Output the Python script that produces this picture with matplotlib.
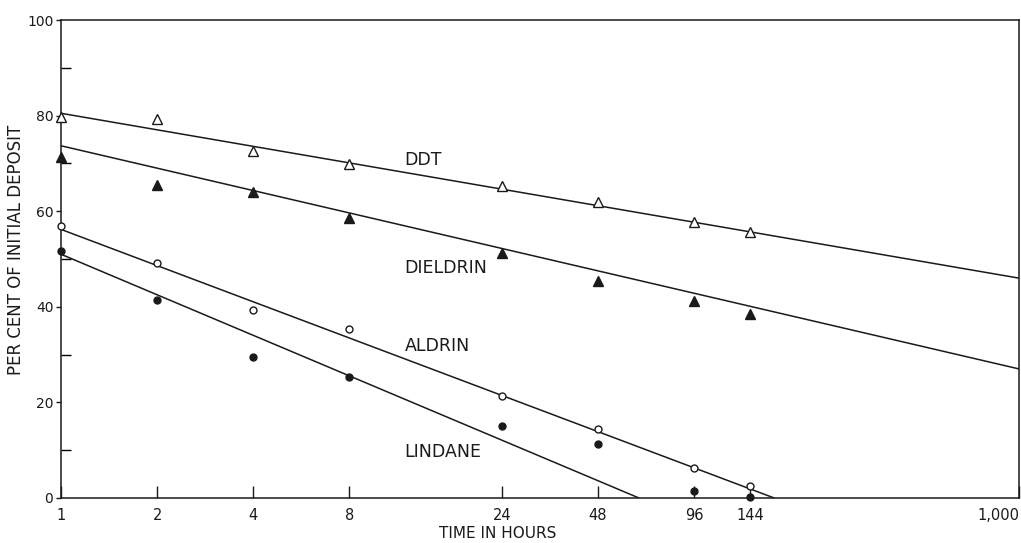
import matplotlib.pyplot as plt
import matplotlib.ticker as mticker

# Sampling times (hours)
hours = [1, 2, 4, 8, 24, 48, 96, 144]

# Per cent of initial deposit
ddt = [79.8, 79.2, 72.7, 69.8, 65.2, 61.9, 57.8, 55.7]
dieldrin = [71.3, 65.5, 64.0, 58.5, 51.2, 45.4, 41.2, 38.5]
aldrin = [57.0, 49.2, 39.3, 35.4, 21.3, 14.5, 6.2, 2.6]
lindane = [51.6, 41.4, 29.5, 25.3, 15.1, 11.3, 1.5, 0.2]

# Fitted straight lines (end points)
ddt_fit_x, ddt_fit_y = [1, 1000], [80.5, 46.0]
dieldrin_fit_x, dieldrin_fit_y = [1, 1000], [73.7, 27.0]
aldrin_fit_x, aldrin_fit_y = [1, 171], [56.2, 0]
lindane_fit_x, lindane_fit_y = [1, 64.5], [51.0, 0]

tick_hours = [1, 2, 4, 8, 24, 48, 96, 144, 1000]
tick_labels = ["1", "2", "4", "8", "24", "48", "96", "144", "1,000"]

ink = "#1a1a1a"

fig = plt.figure(figsize=(10.21, 5.43), dpi=100)
ax = fig.add_axes([0.0597, 0.083, 0.9383, 0.88])

# lines
for fx, fy in [(ddt_fit_x, ddt_fit_y), (dieldrin_fit_x, dieldrin_fit_y),
               (aldrin_fit_x, aldrin_fit_y), (lindane_fit_x, lindane_fit_y)]:
    ax.plot(fx, fy, color=ink, lw=1.1)

# points
ax.plot(hours, ddt, "^", ms=6.5, mfc="white", mec=ink, mew=1.0, ls="none", clip_on=False, zorder=3)
ax.plot(hours, dieldrin, "^", ms=6.5, mfc=ink, mec=ink, ls="none", clip_on=False, zorder=3)
ax.plot(hours, aldrin, "o", ms=5, mfc="white", mec=ink, mew=1.0, ls="none", clip_on=False, zorder=3)
ax.plot(hours, lindane, "o", ms=5, mfc=ink, mec=ink, ls="none", clip_on=False, zorder=3)

# series labels
label_kw = dict(fontsize=12.5, color=ink, ha="left", va="center")
ax.text(11.9, 70.7, "DDT", **label_kw)
ax.text(11.9, 48.1, "DIELDRIN", **label_kw)
ax.text(11.9, 31.8, "ALDRIN", **label_kw)
ax.text(11.9, 9.6, "LINDANE", **label_kw)

ax.set_xscale("log")
ax.set_xlim(1, 1000)
ax.set_ylim(0, 100)

ax.xaxis.set_major_locator(mticker.FixedLocator(tick_hours))
ax.xaxis.set_major_formatter(mticker.FixedFormatter(tick_labels))
ax.xaxis.set_minor_locator(mticker.NullLocator())
ax.tick_params(axis="x", direction="in", length=8.5, width=1, pad=7,
               labelsize=10.5, colors=ink)
for lbl in ax.get_xticklabels():
    if lbl.get_text() == "1,000":
        lbl.set_horizontalalignment("right")

ax.set_yticks([0, 20, 40, 60, 80, 100])
ax.set_yticks([10, 30, 50, 70, 90], minor=True)
ax.tick_params(axis="y", which="major", direction="out", length=3.5, width=1,
               pad=2, labelsize=10, colors=ink)
ax.tick_params(axis="y", which="minor", direction="in", length=7, width=1)

for side in ax.spines.values():
    side.set_color(ink)
    side.set_linewidth(1.1)

ax.set_xlabel("TIME IN HOURS", fontsize=11, color=ink)
ax.xaxis.set_label_coords(0.456, -0.058)
ax.set_ylabel("PER CENT OF INITIAL DEPOSIT", fontsize=12, color=ink)
ax.yaxis.set_label_coords(-0.038, 0.519)

fig.savefig("out.png", dpi=100)
